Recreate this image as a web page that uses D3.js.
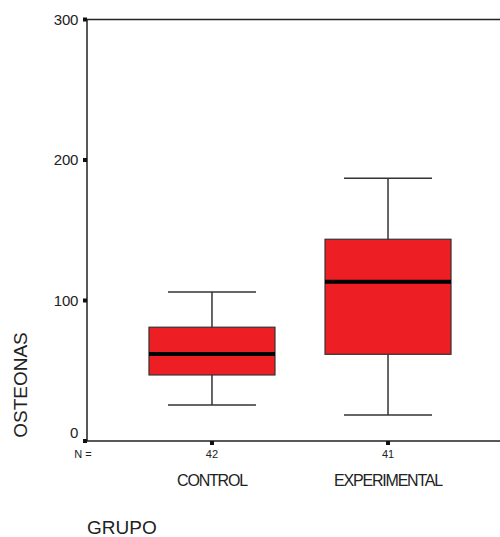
<!DOCTYPE html>
<html lang="en">
<head>
<meta charset="utf-8">
<script src="https://cdn.jsdelivr.net/npm/d3@7"></script>
<style>
    body { margin: 0; background: #fff; }
    svg text { font-family: "Liberation Sans", Arial, sans-serif; fill: #222; }
</style>
</head>
<body>
<div id="chart"></div>
<script>
    // data
    const groups = ['CONTROL', 'EXPERIMENTAL'];
    const counts = [42, 41];
    const whiskerLow = [25.6, 18.5];
    const q1 = [47, 61.7];
    const median = [62, 113.4];
    const q3 = [81, 143.6];
    const whiskerHigh = [106, 187];
    const yTicks = [0, 100, 200, 300];

    (() => {
        const width = 500, height = 537;
        const svg = d3.select('#chart').append('svg')
            .attr('width', width).attr('height', height);

        const left = 87, right = 513, top = 19.5, bottom = 441;
        const y = d3.scaleLinear().domain([0, 300]).range([bottom, top]);
        const x = d3.scalePoint().domain(groups).range([left, right]).padding(0.71);
        const boxW = 126, capW = 88;

        // frame
        svg.append('rect')
            .attr('x', left).attr('y', top)
            .attr('width', right - left).attr('height', bottom - top)
            .attr('fill', 'none').attr('stroke', '#222').attr('stroke-width', 1.5);

        // y axis ticks + labels
        const yAxis = svg.append('g');
        yAxis.selectAll('rect').data(yTicks).enter().append('rect')
            .attr('x', left - 4).attr('y', d => y(d) - 2)
            .attr('width', 4).attr('height', 4).attr('fill', '#111');
        yAxis.selectAll('text').data(yTicks).enter().append('text')
            .attr('x', left - 9)
            .attr('y', d => y(d) + (d === 0 ? -3 : 5))
            .attr('text-anchor', 'end')
            .style('font-size', '15px')
            .style('letter-spacing', '-0.3px')
            .text(d => d);

        // x ticks
        svg.append('g').selectAll('rect').data(groups).enter().append('rect')
            .attr('x', d => x(d) - 2).attr('y', bottom)
            .attr('width', 4).attr('height', 4).attr('fill', '#111');

        svg.append('text')
            .attr('x', left - 4).attr('y', 458)
            .attr('text-anchor', 'middle')
            .style('font-size', '11px')
            .text('N =');

        svg.append('g').selectAll('text').data(counts).enter().append('text')
            .attr('x', (d, i) => x(groups[i])).attr('y', 458)
            .attr('text-anchor', 'middle')
            .style('font-size', '11px')
            .text(d => d);

        svg.append('g').selectAll('text').data(groups).enter().append('text')
            .attr('x', d => x(d)).attr('y', 486)
            .attr('text-anchor', 'middle')
            .style('font-size', '16px')
            .style('letter-spacing', '-1.2px')
            .text(d => d);

        // boxes
        const box = svg.append('g').selectAll('g').data(groups).enter().append('g');
        box.append('line')
            .attr('x1', d => x(d)).attr('x2', d => x(d))
            .attr('y1', (d, i) => y(whiskerLow[i])).attr('y2', (d, i) => y(whiskerHigh[i]))
            .attr('stroke', '#333').attr('stroke-width', 1.5);
        box.append('line')
            .attr('x1', d => x(d) - capW / 2).attr('x2', d => x(d) + capW / 2)
            .attr('y1', (d, i) => y(whiskerHigh[i])).attr('y2', (d, i) => y(whiskerHigh[i]))
            .attr('stroke', '#333').attr('stroke-width', 1.5);
        box.append('line')
            .attr('x1', d => x(d) - capW / 2).attr('x2', d => x(d) + capW / 2)
            .attr('y1', (d, i) => y(whiskerLow[i])).attr('y2', (d, i) => y(whiskerLow[i]))
            .attr('stroke', '#333').attr('stroke-width', 1.5);
        box.append('rect')
            .attr('x', d => x(d) - boxW / 2).attr('width', boxW)
            .attr('y', (d, i) => y(q3[i]))
            .attr('height', (d, i) => y(q1[i]) - y(q3[i]))
            .attr('fill', '#ed1f24').attr('stroke', '#333').attr('stroke-width', 1.2);
        box.append('line')
            .attr('x1', d => x(d) - boxW / 2).attr('x2', d => x(d) + boxW / 2)
            .attr('y1', (d, i) => y(median[i])).attr('y2', (d, i) => y(median[i]))
            .attr('stroke', '#000').attr('stroke-width', 4);

        // axis titles
        svg.append('text')
            .attr('transform', 'translate(27, 385) rotate(-90)')
            .attr('text-anchor', 'middle')
            .style('font-size', '19px')
            .text('OSTEONAS');

        svg.append('text')
            .attr('x', 87).attr('y', 534)
            .style('font-size', '19px')
            .text('GRUPO');
    })();
</script>
</body>
</html>
